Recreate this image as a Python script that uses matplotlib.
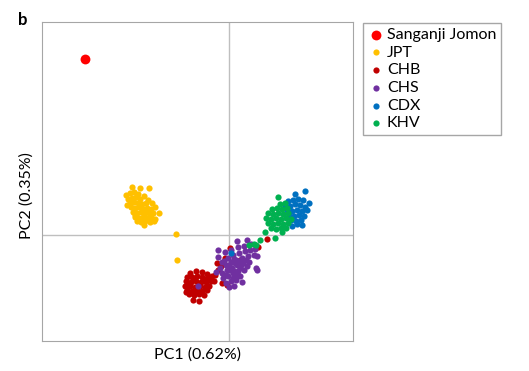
import matplotlib
matplotlib.use('Agg')
import matplotlib.pyplot as plt

plt.rcParams['font.family'] = ['Lato', 'DejaVu Sans']

# PCA scores (PC1, PC2)
jomon_x = [-0.144]
jomon_y = [0.176]

jpt_x = [-0.097, -0.089, -0.080, -0.103, -0.099, -0.095, -0.091, -0.101, -0.097, -0.093,
         -0.089, -0.085, -0.081, -0.099, -0.095, -0.091, -0.087, -0.083, -0.077, -0.102,
         -0.098, -0.094, -0.090, -0.086, -0.082, -0.078, -0.074, -0.096, -0.092, -0.088,
         -0.084, -0.080, -0.076, -0.070, -0.094, -0.090, -0.086, -0.082, -0.078, -0.074,
         -0.092, -0.088, -0.084, -0.079, -0.075, -0.085, -0.094, -0.079, -0.053, -0.052]
jpt_y = [0.048, 0.047, 0.047, 0.040, 0.042, 0.043, 0.041, 0.036, 0.037, 0.038,
         0.036, 0.039, 0.035, 0.032, 0.033, 0.032, 0.031, 0.032, 0.032, 0.030,
         0.028, 0.027, 0.028, 0.026, 0.027, 0.026, 0.028, 0.023, 0.022, 0.023,
         0.022, 0.023, 0.022, 0.022, 0.018, 0.017, 0.018, 0.017, 0.018, 0.016,
         0.014, 0.013, 0.014, 0.013, 0.014, 0.010, 0.020, 0.020, 0.001, -0.025]

chb_x = [-0.039, -0.033, -0.027, -0.022, -0.042, -0.037, -0.032, -0.027, -0.021, -0.017,
         -0.043, -0.038, -0.033, -0.028, -0.023, -0.018, -0.044, -0.039, -0.034, -0.029,
         -0.024, -0.020, -0.042, -0.037, -0.032, -0.027, -0.022, -0.040, -0.035, -0.030,
         -0.025, -0.036, -0.030, -0.043, -0.015, -0.014, -0.011, -0.008, -0.012, -0.004,
         -0.002, 0.001, 0.011, 0.029, 0.038, -0.007, -0.035, -0.030, -0.025, -0.040,
         -0.034]
chb_y = [-0.038, -0.036, -0.037, -0.039, -0.042, -0.042, -0.041, -0.042, -0.043, -0.041,
         -0.046, -0.047, -0.046, -0.047, -0.047, -0.046, -0.051, -0.051, -0.052, -0.051,
         -0.052, -0.051, -0.055, -0.056, -0.055, -0.056, -0.055, -0.059, -0.060, -0.059,
         -0.060, -0.065, -0.066, -0.057, -0.046, -0.040, -0.035, -0.031, -0.028, -0.023,
         -0.050, -0.013, -0.025, -0.012, -0.004, -0.048, -0.044, -0.049, -0.044, -0.048,
         -0.057]

chs_x = [-0.011, -0.011, 0.008, 0.018, 0.022, 0.015, 0.009, 0.002, -0.004, -0.007,
         -0.001, 0.004, 0.010, 0.016, 0.021, 0.026, -0.009, -0.003, 0.002, 0.007,
         0.013, 0.019, 0.025, 0.028, -0.007, -0.002, 0.003, 0.008, 0.014, 0.020,
         0.027, -0.006, -0.001, 0.004, 0.009, 0.015, 0.011, -0.003, 0.002, 0.007,
         0.013, 0.000, 0.005, 0.028, -0.031, -0.013, 0.007, 0.018, 0.001, 0.006,
         0.011, -0.003, 0.004, 0.005, 0.010, 0.000, 0.005, 0.012, -0.005, 0.017,
         0.008]
chs_y = [-0.015, -0.022, -0.006, -0.005, -0.009, -0.011, -0.012, -0.015, -0.017, -0.027,
         -0.023, -0.020, -0.018, -0.016, -0.015, -0.014, -0.033, -0.030, -0.027, -0.025,
         -0.023, -0.021, -0.020, -0.021, -0.038, -0.035, -0.033, -0.030, -0.028, -0.027,
         -0.033, -0.043, -0.041, -0.038, -0.036, -0.035, -0.041, -0.048, -0.046, -0.045,
         -0.047, -0.052, -0.051, -0.035, -0.051, -0.037, -0.042, -0.031, -0.035, -0.028,
         -0.033, -0.040, -0.043, -0.024, -0.026, -0.030, -0.036, -0.030, -0.026, -0.025,
         -0.040]

cdx_x = [0.066, 0.076, 0.080, 0.059, 0.064, 0.069, 0.074, 0.056, 0.061, 0.066,
         0.071, 0.076, 0.058, 0.063, 0.068, 0.073, 0.078, 0.060, 0.065, 0.070,
         0.075, 0.062, 0.067, 0.072, 0.068, 0.063, 0.073, 0.002]
cdx_y = [0.041, 0.044, 0.032, 0.034, 0.035, 0.036, 0.035, 0.030, 0.029, 0.031,
         0.030, 0.028, 0.025, 0.024, 0.025, 0.024, 0.025, 0.020, 0.019, 0.020,
         0.019, 0.015, 0.014, 0.015, 0.011, 0.009, 0.010, -0.018]

khv_x = [0.049, 0.051, 0.056, 0.043, 0.048, 0.053, 0.058, 0.039, 0.044, 0.049,
         0.054, 0.059, 0.037, 0.042, 0.047, 0.052, 0.057, 0.062, 0.039, 0.044,
         0.049, 0.054, 0.059, 0.042, 0.047, 0.052, 0.057, 0.053, 0.036, 0.031,
         0.025, 0.020, 0.027, 0.046]
khv_y = [0.038, 0.031, 0.032, 0.026, 0.027, 0.026, 0.027, 0.022, 0.021, 0.022,
         0.021, 0.022, 0.017, 0.016, 0.017, 0.016, 0.017, 0.016, 0.012, 0.011,
         0.012, 0.011, 0.012, 0.007, 0.006, 0.007, 0.007, 0.003, 0.003, -0.005,
         -0.009, -0.010, -0.010, -0.003]

fig = plt.figure(figsize=(5.29, 3.71), dpi=100)
ax = fig.add_axes([0.0794, 0.0809, 0.5879, 0.8598])

# crosshair through the origin
ax.axhline(0, color='#BFBFBF', lw=1, zorder=0)
ax.axvline(0, color='#BFBFBF', lw=1, zorder=0)

ax.scatter(jpt_x, jpt_y, s=20, color='#FFC000', lw=0, label='JPT')
ax.scatter(chb_x, chb_y, s=20, color='#C00000', lw=0, label='CHB')
ax.scatter(chs_x, chs_y, s=20, color='#7030A0', lw=0, label='CHS')
ax.scatter(cdx_x, cdx_y, s=20, color='#0070C0', lw=0, label='CDX')
ax.scatter(khv_x, khv_y, s=20, color='#00B050', lw=0, label='KHV')
ax.scatter(jomon_x, jomon_y, s=50, color='#FF0000', lw=0, label='Sanganji Jomon')

ax.set_xlim(-0.187, 0.124)
ax.set_ylim(-0.106, 0.213)
ax.set_xticks([])
ax.set_yticks([])
for sp in ax.spines.values():
    sp.set_color('#A6A6A6')

ax.set_xlabel('PC1 (0.62%)', fontsize=11.5)
ax.set_ylabel('PC2 (0.35%)', fontsize=11.5)
ax.xaxis.set_label_coords(0.5, -0.02, transform=ax.transAxes)
ax.yaxis.set_label_coords(-0.026, 0.455, transform=ax.transAxes)

h, l = ax.get_legend_handles_labels()
order = [5, 0, 1, 2, 3, 4]
leg = ax.legend([h[i] for i in order], [l[i] for i in order],
                loc='upper left', bbox_to_anchor=(0.686, 0.938),
                bbox_transform=fig.transFigure, borderaxespad=0,
                fontsize=11.5, fancybox=False, edgecolor='#A6A6A6',
                handletextpad=0.2, handlelength=1.0, labelspacing=0.22,
                borderpad=0.3, framealpha=1)

fig.text(0.034, 0.946, 'b', fontsize=12, fontweight='bold', va='center')

fig.savefig('out.png', dpi=100)
